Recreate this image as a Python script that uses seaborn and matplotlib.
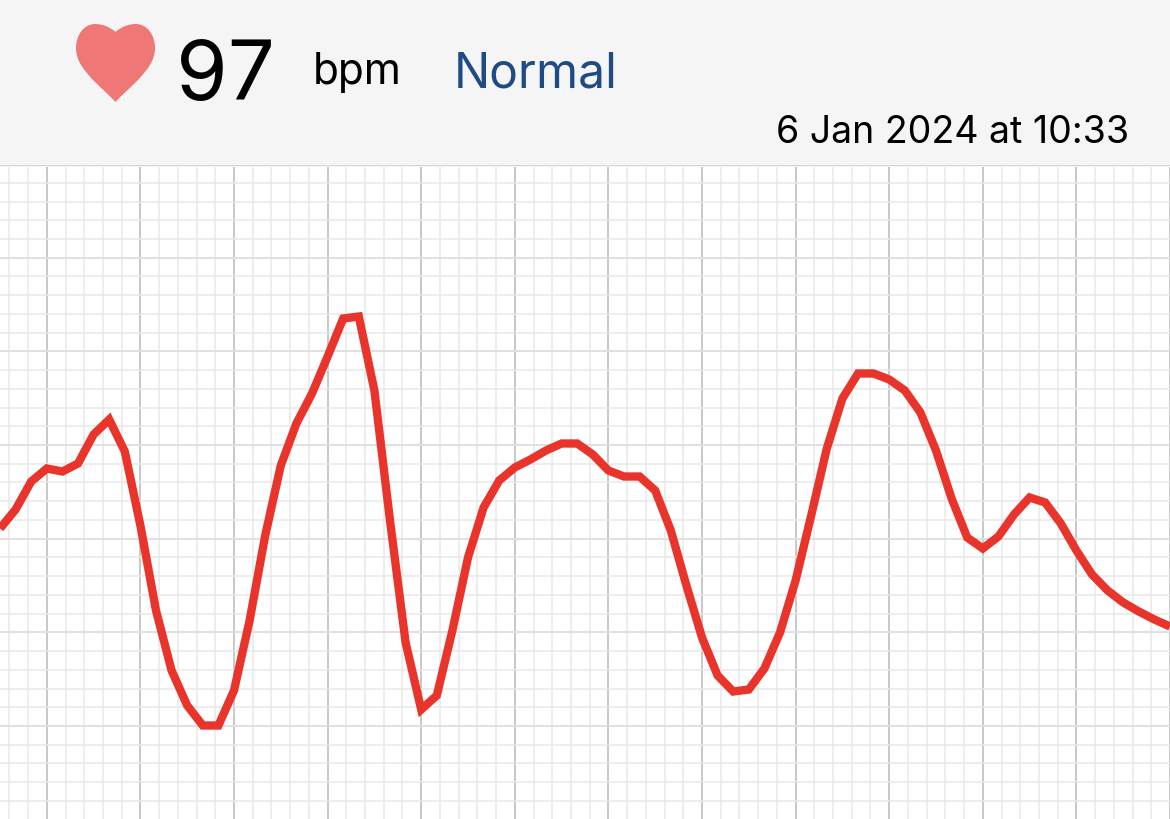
import numpy as np
import pandas as pd
import matplotlib
matplotlib.use("Agg")
import matplotlib.pyplot as plt
from matplotlib.patches import PathPatch, Rectangle
from matplotlib.path import Path
import seaborn as sns

# ------------------------------------------------------------------
# DATA: pulse trace, one value per sample
# ------------------------------------------------------------------
signal = [292, 311, 339, 352, 349, 357, 386, 401, 369, 295,
          210, 150, 115, 95, 95, 130, 200, 285, 355, 397,
          427, 464, 502, 504, 430, 300, 178, 111, 125, 190,
          263, 313, 340, 353, 361, 370, 377, 377, 366, 350,
          344, 344, 330, 290, 235, 183, 145, 129, 131, 152,
          188, 240, 305, 372, 422, 447, 447, 441, 430, 408,
          370, 322, 283, 272, 284, 306, 323, 318, 297, 270,
          246, 230, 218, 209, 201, 194]
samples = list(range(len(signal)))

heart_rate = "97"
unit = "bpm"
status = "Normal"
timestamp = "6 Jan 2024 at 10:33"

df = pd.DataFrame({"sample": samples, "signal": signal})

sns.set_theme(style="white")
plt.rcParams["font.family"] = ["Inter", "Roboto", "DejaVu Sans"]

fig = plt.figure(figsize=(11.7, 8.2), dpi=100, facecolor="white")

# ------------------------------------------------------------------
# ECG paper
# ------------------------------------------------------------------
ax = fig.add_axes([0, 0, 1, 652 / 820])
sns.lineplot(data=df, x="sample", y="signal", color="#e8342a", linewidth=6,
             ax=ax, zorder=3, solid_joinstyle="miter", solid_capstyle="butt")

ax.set_xlim(0, 1170 / 15.61)
ax.set_ylim(1.5, 653.5)
ax.set_xlabel("")
ax.set_ylabel("")

# major squares are 6 samples wide, small squares 1/5 of that
ax.set_xticks(np.arange(3, 76, 6))
ax.set_xticks(np.arange(0.6, 76, 1.2), minor=True)
ax.set_yticks(np.arange(94.5, 653, 93.65))
ax.set_yticks(np.arange(19.6, 653, 18.73), minor=True)
ax.tick_params(which="both", length=0, labelbottom=False, labelleft=False)
ax.grid(which="minor", color="#e8e8e8", linewidth=1.1, zorder=0)
ax.grid(which="major", color="#c8c8c8", linewidth=1.4, zorder=1)
ax.set_axisbelow(True)
sns.despine(ax=ax, left=True, bottom=True, right=True, top=True)

# ------------------------------------------------------------------
# Header band
# ------------------------------------------------------------------
fig.add_artist(Rectangle((0, 655 / 820), 1, 165 / 820, transform=fig.transFigure,
                         facecolor="#f5f5f5", edgecolor="none"))
fig.add_artist(plt.Line2D([0, 1], [654.5 / 820, 654.5 / 820], color="#d4d4d4", linewidth=1))


def px(x, y):
    return (x / 1170, 1 - y / 820)


heart_verts = [px(115.5, 33),
               px(109, 27), px(101, 25), px(95, 25),
               px(84, 25), px(76, 36), px(76, 49),
               px(76, 62), px(84, 71), px(93, 81),
               px(101, 89), px(110, 97), px(115.5, 103),
               px(121, 97), px(130, 89), px(138, 81),
               px(147, 71), px(155, 62), px(155, 49),
               px(155, 36), px(147, 25), px(136, 25),
               px(130, 25), px(122, 27), px(115.5, 33)]
heart_codes = [Path.MOVETO] + [Path.CURVE4] * 24
fig.add_artist(PathPatch(Path(heart_verts, heart_codes), transform=fig.transFigure,
                         facecolor="#ef7775", edgecolor="none"))

fig.text(*px(176, 100), heart_rate, fontsize=60, color="black", ha="left", va="baseline")
fig.text(*px(313, 84), unit, fontsize=30.5, color="black", ha="left", va="baseline")
fig.text(*px(454, 88), status, fontsize=34.5, color="#1f4a85", ha="left", va="baseline")
fig.text(*px(1129, 143), timestamp, fontsize=27, color="black", ha="right", va="baseline")

plt.savefig("out.png", dpi=100)
